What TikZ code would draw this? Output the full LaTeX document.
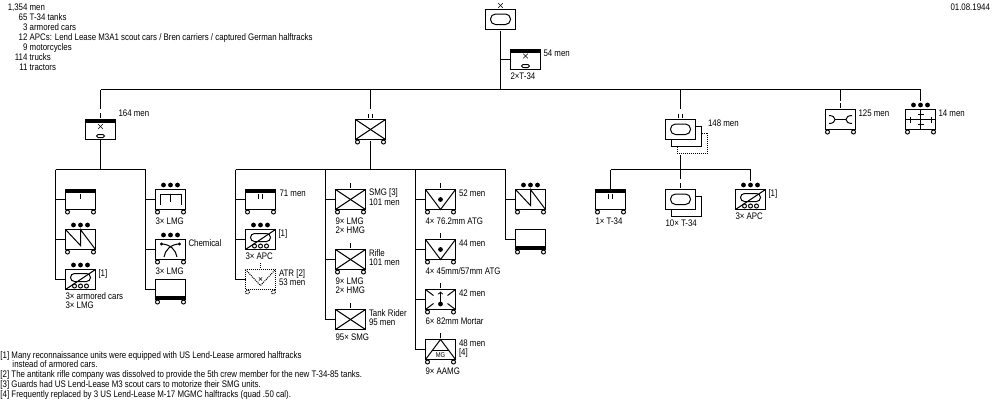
\documentclass[tikz,border=0pt]{standalone}
\usepackage{fontspec}
\setmainfont[FakeStretch=0.83]{Liberation Sans}
\newcommand{\unitfont}{\fontsize{9.5}{9.5}\selectfont}
\tikzset{
	unitbox/.style={draw,rectangle,line width=1pt,inner sep=0pt,outer sep=0pt,minimum width=30pt,minimum height=20pt},
	ghostbox/.style={unitbox,dash pattern=on 1pt off 1pt},
	lbl/.style={anchor=west,inner sep=0pt,outer sep=0pt,text height=7pt,text depth=0pt,font=\unitfont},
	wire/.style={line width=1pt},
	bandtop/.pic={\fill (-15,-10) rectangle (15,-6.5);},
	bandbot/.pic={\fill (-15,10) rectangle (15,6.5);},
	wheels/.pic={
		\draw[line width=1pt,fill=white] (-13,12.5) circle (2);
		\draw[line width=1pt,fill=white] (13,12.5) circle (2);},
	threedots/.pic={
		\fill (-7,-14.5) circle (2.4);
		\fill (0,-14.5) circle (2.4);
		\fill (7,-14.5) circle (2.4);},
	tickone/.pic={\draw[wire] (0,-16.5) -- (0,-11.5);},
	ticktwo/.pic={
		\draw[wire] (-2,-16) -- (-2,-11.5);
		\draw[wire] (2,-16) -- (2,-11.5);},
	crossmark/.pic={
		\draw[line width=0.6pt] (-2.3,-2.3) -- (2.3,2.3);
		\draw[line width=0.6pt] (-2.3,2.3) -- (2.3,-2.3);},
	bigoval/.pic={\draw[wire,rounded corners=5pt] (-10,-5.5) rectangle (10,5);},
	crossed/.pic={
		\draw[wire] (-15,-10) -- (15,10);
		\draw[wire] (-15,10) -- (15,-10);},
	zigzag/.pic={\draw[wire] (-15,-10) -- (0,6) -- (0,-10) -- (15,10);},
	armored/.pic={
		\draw[wire] (-15,10) -- (15,-10);
		\draw[wire,rounded corners=4pt] (-10,-6) rectangle (10,2);
		\draw[wire,fill=white] (-6,6.5) circle (2);
		\draw[wire,fill=white] (0,6.5) circle (2);
		\draw[wire,fill=white] (6,6.5) circle (2);},
	atgun/.pic={
		\draw[wire] (-15,-10) -- (0,10) -- (15,-10);
		\fill (0,0) circle (2.4);},
	mortar/.pic={
		\draw[wire] (-15,-10) -- (-7,-4);
		\draw[wire] (15,-10) -- (7,-4);
		\draw[wire] (-15,10) -- (-7,4);
		\draw[wire] (15,10) -- (7,4);
		\draw[wire,->] (0,5) -- (0,-8);
		\fill (0,4.5) circle (2.4);},
	shadowone/.pic={\draw[wire] (15,-3.5) -- (21,-3.5) -- (21,16.5) -- (-9,16.5) -- (-9,10);},
	shadowtwo/.pic={\draw[wire,dash pattern=on 1pt off 1pt] (21,3.5) -- (27,3.5) -- (27,23.5) -- (-3.5,23.5) -- (-3.5,16.5);},
}
\begin{document}
\begin{tikzpicture}[x=1pt,y=-1pt]
	\useasboundingbox (0,0) rectangle (1000,400);

	% Strength table and date
	\node[lbl] (tot1) at (5.5,6.5) {\makebox[22pt][r]{1,354} men};
	\node[lbl] (tot2) at (5.5,16.5) {\makebox[22pt][r]{65} T-34 tanks};
	\node[lbl] (tot3) at (5.5,26.5) {\makebox[22pt][r]{3} armored cars};
	\node[lbl] (tot4) at (5.5,37) {\makebox[22pt][r]{12} APCs: Lend Lease M3A1 scout cars / Bren carriers / captured German halftracks};
	\node[lbl] (tot5) at (5.5,47) {\makebox[22pt][r]{9} motorcycles};
	\node[lbl] (tot6) at (5.5,57) {\makebox[22pt][r]{114} trucks};
	\node[lbl] (tot7) at (5.5,67) {\makebox[22pt][r]{11} tractors};
	\node[lbl] (date) at (950.5,6.5) {01.08.1944};

	% Notes
	\node[lbl] (note1) at (0.5,354.5) {[1] Many reconnaissance units were equipped with US Lend-Lease armored halftracks};
	\node[lbl] (note1b) at (12.5,364) {instead of armored cars.};
	\node[lbl] (note2) at (0.5,374) {[2] The antitank rifle company was dissolved to provide the 5th crew member for the new T-34-85 tanks.};
	\node[lbl] (note3) at (0.5,384) {[3] Guards had US Lend-Lease M3 scout cars to motorize their SMG units.};
	\node[lbl] (note4) at (0.5,394) {[4] Frequently replaced by 3 US Lend-Lease M-17 MGMC halftracks (quad .50 cal).};

	% Brigade and staff
	\node[unitbox] (bde) at (500.5,19.5) {};
	\pic at (bde) {bigoval};
	\pic at (500.5,5.5) {crossmark};
	\node[unitbox] (staff) at (525.5,59.5) {};
	\pic at (staff) {bandtop};
	\pic at (525.5,56) {crossmark};
	\draw[wire,rounded corners=1.5pt] (521.5,64.5) rectangle (529.5,67.5);
	\node[lbl] (staffmen) at (543.5,53) {54 men};
	\node[lbl] (stafftanks) at (510.5,75.5) {2×T-34};

	% Main bus
	\coordinate (drop1) at (100.5,89.5);
	\coordinate (drop2) at (370.5,89.5);
	\coordinate (drop3) at (680.5,89.5);
	\coordinate (drop4) at (840.5,89.5);
	\coordinate (drop5) at (920.5,89.5);
	\coordinate (trunk) at (500.5,89.5);
	\draw[wire] (drop1) -- (drop5);
	\draw[wire,shorten <=1.5pt] (bde.south) -- (trunk);
	\draw[wire] (trunk |- staff.west) -- (staff.west);

	% Recon battalion
	\node[unitbox] (recbn) at (100.5,129.5) {};
	\pic at (recbn) {bandtop};
	\pic at (recbn) {tickone};
	\pic at (100.5,126.5) {crossmark};
	\draw[wire,rounded corners=1.5pt] (96.5,134.5) rectangle (104.5,137.5);
	\node[lbl] (recmen) at (118.5,112.5) {164 men};
	\draw[wire,shorten >=11pt] (drop1) -- (recbn.north);
	\coordinate (busrecl) at (55.5,169.5);
	\coordinate (busrecr) at (145.5,169.5);
	\draw[wire] (busrecl) -- (busrecr);
	\draw[wire] (recbn.south) -- (recbn.south |- busrecl);

	\node[unitbox] (rec1) at (80.5,199.5) {};
	\pic at (rec1) {bandtop};
	\pic at (80.5,210.5) {tickone};
	\pic at (rec1) {wheels};
	\draw[wire] (busrecl) |- (rec1.west);
	\node[unitbox] (rec2) at (80.5,239.5) {};
	\pic at (rec2) {zigzag};
	\pic at (rec2) {threedots};
	\pic at (rec2) {wheels};
	\draw[wire] (busrecl) |- (rec2.west);
	\node[unitbox] (rec3) at (80.5,279.5) {};
	\pic at (rec3) {armored};
	\pic at (rec3) {threedots};
	\draw[wire] (busrecl) |- (rec3.west);
	\node[lbl] (rec3note) at (98.5,273) {[1]};
	\node[lbl] (rec3a) at (65.5,295.5) {3× armored cars};
	\node[lbl] (rec3b) at (65.5,305) {3× LMG};

	\node[unitbox] (rec4) at (170.5,199.5) {};
	\draw[wire] (160,205) -- (160,194.5) -- (181,194.5) -- (181,205);
	\draw[wire] (170.5,194.5) -- (170.5,202);
	\pic at (rec4) {threedots};
	\pic at (rec4) {wheels};
	\draw[wire] (busrecr) |- (rec4.west);
	\node[lbl] (rec4a) at (155.5,220.5) {3× LMG};
	\node[unitbox] (rec5) at (170.5,249.5) {};
	\draw[wire] (161.5,244) .. controls (170,244) and (176,250) .. (177,257);
	\draw[wire] (179.5,244) .. controls (171,244) and (165,250) .. (164,257);
	\fill (161.5,244) circle (1.6);
	\fill (179.5,244) circle (1.6);
	\pic at (rec5) {threedots};
	\pic at (rec5) {wheels};
	\draw[wire] (busrecr) |- (rec5.west);
	\node[lbl] (rec5chem) at (188.5,242.5) {Chemical};
	\node[lbl] (rec5a) at (155.5,270.5) {3× LMG};
	\node[unitbox] (rec6) at (170.5,289.5) {};
	\pic at (rec6) {bandbot};
	\pic at (rec6) {wheels};
	\draw[wire] (busrecr) |- (rec6.west);

	% Motor rifle battalion
	\node[unitbox] (rifbn) at (370.5,129.5) {};
	\pic at (rifbn) {crossed};
	\pic at (rifbn) {ticktwo};
	\pic at (rifbn) {wheels};
	\draw[wire,shorten >=11pt] (drop2) -- (rifbn.north);
	\coordinate (busa) at (235.5,169.5);
	\coordinate (busb) at (325.5,169.5);
	\coordinate (busc) at (415.5,169.5);
	\coordinate (busd) at (505.5,169.5);
	\draw[wire] (busa) -- (busd);
	\draw[wire,shorten <=1.5pt] (rifbn.south) -- (rifbn.south |- busa);

	\node[unitbox] (a1) at (260.5,199.5) {};
	\pic at (a1) {bandtop};
	\pic at (260.5,210) {ticktwo};
	\pic at (a1) {wheels};
	\draw[wire] (busa) |- (a1.west);
	\node[lbl] (a1men) at (279.5,193) {71 men};
	\node[unitbox] (a2) at (260.5,239.5) {};
	\pic at (a2) {armored};
	\pic at (a2) {threedots};
	\draw[wire] (busa) |- (a2.west);
	\node[lbl] (a2note) at (278.5,233) {[1]};
	\node[lbl] (a2a) at (245.5,255.5) {3× APC};
	\node[ghostbox] (a3) at (260.5,279.5) {};
	\draw[wire,dash pattern=on 1pt off 1pt] (245.5,269.5) -- (260.5,285.5) -- (275.5,269.5);
	\draw[wire,dash pattern=on 1pt off 1pt] (260.5,263) -- (260.5,268);
	\pic[scale=0.7] at (260.5,279) {crossmark};
	\draw[wire,dash pattern=on 1pt off 1pt] (247.5,292) circle (2);
	\draw[wire,dash pattern=on 1pt off 1pt] (273.5,292) circle (2);
	\draw[wire] (busa) |- (a3.west);
	\node[lbl] (a3a) at (279,273) {ATR [2]};
	\node[lbl] (a3b) at (279,281.5) {53 men};

	\node[unitbox] (b1) at (350.5,199.5) {};
	\pic at (b1) {crossed};
	\pic at (b1) {tickone};
	\pic at (b1) {wheels};
	\draw[wire] (busb) |- (b1.west);
	\node[lbl] (b1a) at (369,192) {SMG [3]};
	\node[lbl] (b1b) at (369,201.5) {101 men};
	\node[lbl] (b1c) at (335.5,220.5) {9× LMG};
	\node[lbl] (b1d) at (335.5,230) {2× HMG};
	\node[unitbox] (b2) at (350.5,259.5) {};
	\pic at (b2) {crossed};
	\pic at (b2) {tickone};
	\pic at (b2) {wheels};
	\draw[wire] (busb) |- (b2.west);
	\node[lbl] (b2a) at (369,252.5) {Rifle};
	\node[lbl] (b2b) at (369,261.5) {101 men};
	\node[lbl] (b2c) at (335.5,280.5) {9× LMG};
	\node[lbl] (b2d) at (335.5,290) {2× HMG};
	\node[unitbox] (b3) at (350.5,319.5) {};
	\pic at (b3) {crossed};
	\pic at (b3) {tickone};
	\draw[wire] (busb) |- (b3.west);
	\node[lbl] (b3a) at (369,313) {Tank Rider};
	\node[lbl] (b3b) at (369,322) {95 men};
	\node[lbl] (b3c) at (335.5,336.5) {95× SMG};

	\node[unitbox] (c1) at (440.5,199.5) {};
	\pic at (c1) {atgun};
	\pic at (c1) {tickone};
	\pic at (c1) {wheels};
	\draw[wire] (busc) |- (c1.west);
	\node[lbl] (c1men) at (459,193) {52 men};
	\node[lbl] (c1a) at (425.5,221) {4× 76.2mm ATG};
	\node[unitbox] (c2) at (440.5,249.5) {};
	\pic at (c2) {atgun};
	\pic at (c2) {tickone};
	\pic at (c2) {wheels};
	\draw[wire] (busc) |- (c2.west);
	\node[lbl] (c2men) at (459,243) {44 men};
	\node[lbl] (c2a) at (425.5,271) {4× 45mm/57mm ATG};
	\node[unitbox] (c3) at (440.5,299.5) {};
	\pic at (c3) {mortar};
	\pic at (c3) {tickone};
	\pic at (c3) {wheels};
	\draw[wire] (busc) |- (c3.west);
	\node[lbl] (c3men) at (459,292.5) {42 men};
	\node[lbl] (c3a) at (425.5,321) {6× 82mm Mortar};
	\node[unitbox] (c4) at (440.5,349.5) {};
	\draw[wire] (425.5,359.5) -- (440.5,339.5) -- (455.5,359.5);
	\draw[wire] (432,350.5) -- (449,350.5);
	\node[inner sep=0pt,font=\fontsize{7}{7}\selectfont] (c4mg) at (440.5,355) {MG};
	\pic at (c4) {tickone};
	\pic at (c4) {wheels};
	\draw[wire] (busc) |- (c4.west);
	\node[lbl] (c4men) at (459,342.5) {48 men};
	\node[lbl] (c4note) at (459,352) {[4]};
	\node[lbl] (c4a) at (425.5,370.5) {9× AAMG};

	\node[unitbox] (d1) at (530.5,199.5) {};
	\pic at (d1) {zigzag};
	\pic at (d1) {threedots};
	\pic at (d1) {wheels};
	\draw[wire] (busd) |- (d1.west);
	\node[unitbox] (d2) at (530.5,239.5) {};
	\pic at (d2) {bandbot};
	\pic at (d2) {wheels};
	\draw[wire] (busd) |- (d2.west);

	% Tank battalion
	\pic at (680.5,129.5) {shadowtwo};
	\pic at (680.5,129.5) {shadowone};
	\node[unitbox] (tankbn) at (680.5,129.5) {};
	\pic at (tankbn) {bigoval};
	\pic at (tankbn) {ticktwo};
	\node[lbl] (tankmen) at (708,122.5) {148 men};
	\draw[wire,shorten >=11pt] (drop3) -- (tankbn.north);
	\coordinate (bustank) at (680.5,169.5);
	\coordinate (bustankl) at (610.5,169.5);
	\coordinate (bustankr) at (750.5,169.5);
	\draw[wire] (bustankl) -- (bustankr);
	\draw[wire,shorten <=15.5pt] (tankbn.south) -- (bustank);

	\node[unitbox] (t1) at (610.5,199.5) {};
	\pic at (t1) {bandtop};
	\pic at (610.5,210) {ticktwo};
	\pic at (t1) {wheels};
	\draw[wire] (bustankl) -- (t1.north);
	\node[lbl] (t1a) at (595.5,220.5) {1× T-34};
	\pic at (680.5,199.5) {shadowone};
	\node[unitbox] (t2) at (680.5,199.5) {};
	\pic at (t2) {bigoval};
	\pic at (t2) {tickone};
	\draw[wire,shorten >=11pt] (bustank) -- (t2.north);
	\node[lbl] (t2a) at (665.5,222.5) {10× T-34};
	\node[unitbox] (t3) at (750.5,199.5) {};
	\pic at (t3) {armored};
	\pic at (t3) {threedots};
	\draw[wire,shorten >=9pt] (bustankr) -- (t3.north);
	\node[lbl] (t3note) at (768.5,193) {[1]};
	\node[lbl] (t3a) at (735.5,216) {3× APC};

	% Maintenance and supply
	\node[unitbox] (maint) at (840.5,119.5) {};
	\draw[wire] (835,119.5) -- (846,119.5);
	\draw[wire] (829,115.5) .. controls (833,115.5) and (835,117.5) .. (835,119.5) .. controls (835,121.5) and (833,123.5) .. (829,123.5);
	\draw[wire] (852,115.5) .. controls (848,115.5) and (846,117.5) .. (846,119.5) .. controls (846,121.5) and (848,123.5) .. (852,123.5);
	\pic at (maint) {tickone};
	\pic at (maint) {wheels};
	\draw[wire,shorten >=9pt] (drop4) -- (maint.north);
	\node[lbl] (maintmen) at (858.5,112.5) {125 men};
	\node[unitbox] (supply) at (920.5,119.5) {};
	\draw[wire] (905.5,119.5) -- (935.5,119.5);
	\draw[wire] (920.5,109.5) -- (920.5,129.5);
	\draw[wire] (910,116.5) -- (910,122.5);
	\draw[wire] (931,116.5) -- (931,122.5);
	\draw[wire] (917.5,114.5) -- (923.5,114.5);
	\draw[wire] (917.5,124.5) -- (923.5,124.5);
	\pic at (supply) {threedots};
	\pic at (supply) {wheels};
	\draw[wire,shorten >=9pt] (drop5) -- (supply.north);
	\node[lbl] (supplymen) at (938.5,112.5) {14 men};
\end{tikzpicture}
\end{document}
